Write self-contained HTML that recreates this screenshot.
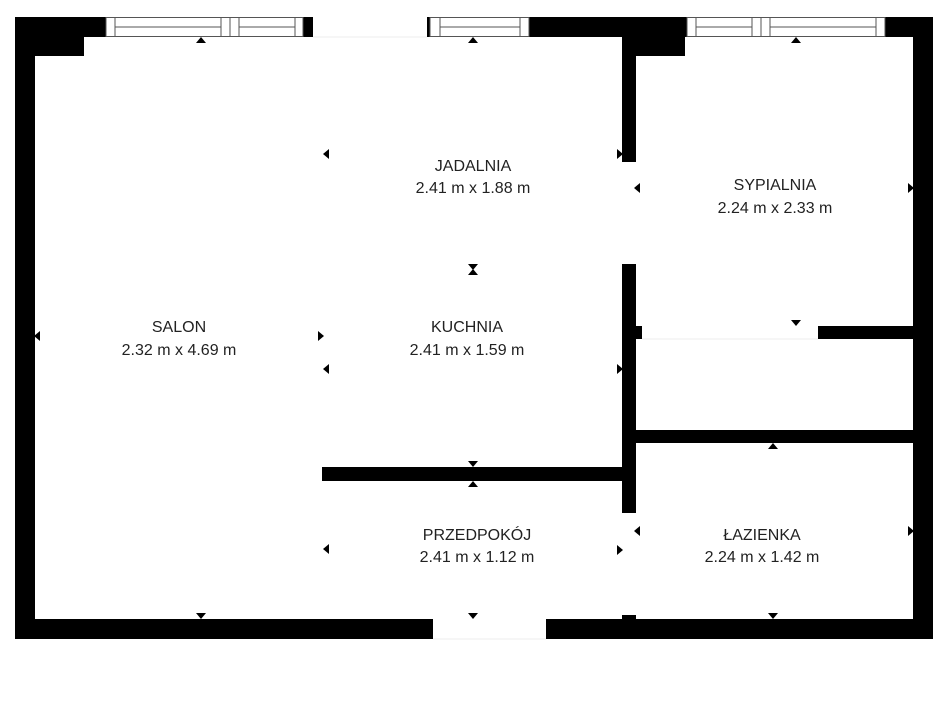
<!DOCTYPE html>
<html><head><meta charset="utf-8"><style>
html,body{margin:0;padding:0;background:#fff;}
svg{display:block;}
text{font-family:"Liberation Sans",sans-serif;font-size:16px;fill:#222;text-anchor:middle;}
</style></head><body>
<svg width="947" height="710" viewBox="0 0 947 710" xmlns="http://www.w3.org/2000/svg">
<g fill="#000">
<!-- outer walls -->
<rect x="15" y="17" width="91" height="20"/>
<rect x="15" y="37" width="69" height="19"/>
<rect x="15" y="17" width="20" height="622"/>
<rect x="303" y="17" width="10" height="20"/>
<rect x="427" y="17" width="3" height="20"/>
<rect x="529" y="17" width="158" height="20"/>
<rect x="622" y="37" width="63" height="19"/>
<rect x="885" y="17" width="48" height="20"/>
<rect x="913" y="17" width="20" height="622"/>
<rect x="15" y="619" width="418" height="20"/>
<rect x="546" y="619" width="387" height="20"/>
<!-- inner walls -->
<rect x="622" y="37" width="14" height="125"/>
<rect x="622" y="264" width="14" height="249"/>
<rect x="622" y="615" width="14" height="5"/>
<rect x="636" y="326" width="6" height="13"/>
<rect x="818" y="326" width="95" height="13"/>
<rect x="636" y="430" width="277" height="13"/>
<rect x="322" y="467" width="300" height="14"/>
</g>
<!-- windows -->
<g fill="#fff" stroke="#555" stroke-width="1">
<rect x="106" y="17.5" width="197" height="19"/>
<line x1="115" y1="17.5" x2="115" y2="36.5"/>
<line x1="115" y1="27" x2="221" y2="27"/>
<line x1="221" y1="17.5" x2="221" y2="36.5"/>
<line x1="230" y1="17.5" x2="230" y2="36.5"/>
<line x1="239" y1="17.5" x2="239" y2="36.5"/>
<line x1="239" y1="27" x2="295" y2="27"/>
<line x1="295" y1="17.5" x2="295" y2="36.5"/>
<rect x="430" y="17.5" width="99" height="19"/>
<line x1="440" y1="17.5" x2="440" y2="36.5"/>
<line x1="440" y1="27" x2="520" y2="27"/>
<line x1="520" y1="17.5" x2="520" y2="36.5"/>
<rect x="687" y="17.5" width="198" height="19"/>
<line x1="696" y1="17.5" x2="696" y2="36.5"/>
<line x1="696" y1="27" x2="752" y2="27"/>
<line x1="752" y1="17.5" x2="752" y2="36.5"/>
<line x1="761" y1="17.5" x2="761" y2="36.5"/>
<line x1="770" y1="17.5" x2="770" y2="36.5"/>
<line x1="770" y1="27" x2="876" y2="27"/>
<line x1="876" y1="17.5" x2="876" y2="36.5"/>
</g>
<g stroke="#eee" stroke-width="1">
<line x1="313" y1="37" x2="427" y2="37"/>
<line x1="433" y1="639" x2="546" y2="639"/>
<line x1="642" y1="339" x2="818" y2="339"/>
</g>
<!-- markers -->
<g fill="#000">
<path d="M196,43 L206,43 L201,37Z"/><path d="M468,43 L478,43 L473,37Z"/><path d="M791,43 L801,43 L796,37Z"/>
<path d="M329,149 L329,159 L323,154Z"/><path d="M617,149 L617,159 L623,154Z"/>
<path d="M640,183 L640,193 L634,188Z"/><path d="M908,183 L908,193 L914,188Z"/>
<path d="M468,264 L478,264 L473,270Z"/><path d="M468,275 L478,275 L473,269Z"/>
<path d="M40,331 L40,341 L34,336Z"/><path d="M318,331 L318,341 L324,336Z"/>
<path d="M329,364 L329,374 L323,369Z"/><path d="M617,364 L617,374 L623,369Z"/>
<path d="M791,320 L801,320 L796,326Z"/>
<path d="M468,461 L478,461 L473,467Z"/><path d="M468,487 L478,487 L473,481Z"/>
<path d="M768,449 L778,449 L773,443Z"/>
<path d="M640,526 L640,536 L634,531Z"/><path d="M908,526 L908,536 L914,531Z"/>
<path d="M329,544 L329,554 L323,549Z"/><path d="M617,545 L617,555 L623,550Z"/>
<path d="M196,613 L206,613 L201,619Z"/><path d="M468,613 L478,613 L473,619Z"/><path d="M768,613 L778,613 L773,619Z"/>
</g>
<!-- labels -->
<text x="473" y="171">JADALNIA</text>
<text x="473" y="193">2.41 m x 1.88 m</text>
<text x="775" y="190">SYPIALNIA</text>
<text x="775" y="213">2.24 m x 2.33 m</text>
<text x="179" y="332">SALON</text>
<text x="179" y="355">2.32 m x 4.69 m</text>
<text x="467" y="332">KUCHNIA</text>
<text x="467" y="355">2.41 m x 1.59 m</text>
<text x="477" y="540">PRZEDPOKÓJ</text>
<text x="477" y="562">2.41 m x 1.12 m</text>
<text x="762" y="540">ŁAZIENKA</text>
<text x="762" y="562">2.24 m x 1.42 m</text>
</svg>
</body></html>
